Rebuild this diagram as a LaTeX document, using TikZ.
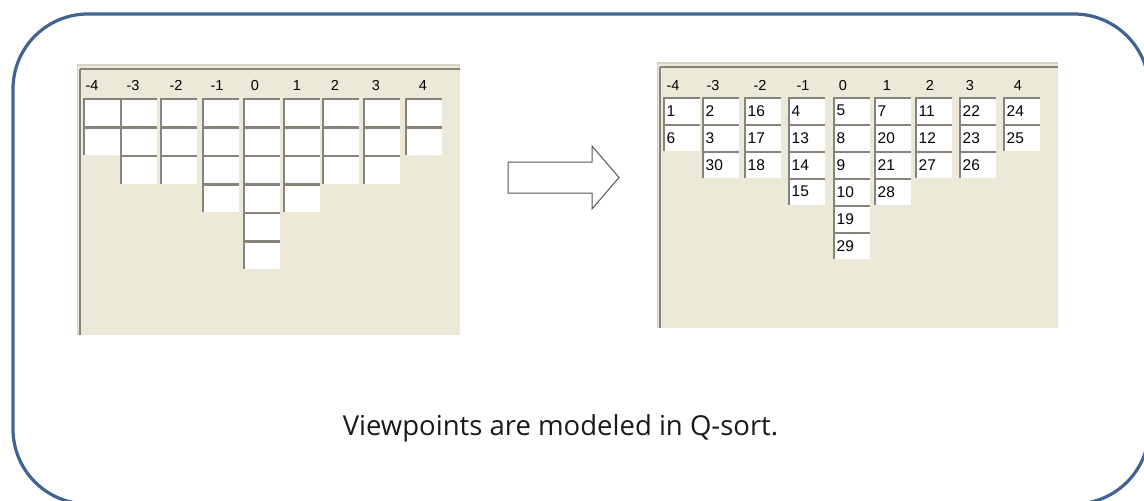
\documentclass[tikz,border=0pt]{standalone}
\usepackage{fontspec}
\setmainfont{Liberation Sans}
\newfontfamily\capfont{Open Sans}
\definecolor{panelbg}{HTML}{ECE9D8}
\definecolor{edgedark}{HTML}{85837A}
\definecolor{edgemid}{HTML}{D6D3C6}
\definecolor{frameblue}{HTML}{3F6492}
\definecolor{arrowgray}{HTML}{555555}
\begin{document}
\begin{tikzpicture}[x=1pt,y=-1pt,
  frame/.style={draw=frameblue, line width=3.2pt, rounded corners=75pt},
  panel/.style={fill=panelbg},
  colhead/.style={font=\fontsize{14.5}{16}\selectfont, text=black, inner sep=0pt, anchor=base},
  qcell/.style={rectangle, fill=white, anchor=north west, inner ysep=0pt,
    inner xsep=3.5pt, text width=30pt, align=left, minimum width=37pt,
    font=\fontsize{15.5}{16}\selectfont,
    path picture={\draw[edgedark, line width=4pt]
      (path picture bounding box.south west) --
      (path picture bounding box.north west) --
      (path picture bounding box.north east);}},
  blockarrow/.style={draw=arrowgray, line width=1pt, fill=white, line join=miter},
  caption/.style={font=\capfont\fontsize{27.5}{32}\selectfont, text=black!90}]
\useasboundingbox (0,0) rectangle (1144,501);

% outer frame, partly running past the right and bottom edges
\begin{scope}
  \clip (0,0) rectangle (1144,501);
  \draw[frame] (13,14) rectangle (1149,504);
\end{scope}

% ---- left panel: empty Q-sort grid ----
\fill[panel] (77,64) rectangle (460,335);
\draw[edgemid, line width=1.5pt] (77,65) -- (460,65);
\draw[edgemid, line width=1.5pt] (77.5,65) -- (77.5,335);
\draw[edgedark, line width=2pt] (80,68.5) -- (460,68.5);
\draw[edgedark, line width=2pt] (80,68.5) -- (80,335);
\foreach \lab/\cx/\n/\hx [count=\i] in
  {-4/83/2/92, -3/120/3/133, -2/160/3/176, -1/202/4/217, 0/243/6/255,
   1/283/4/297, 2/322/3/335, 3/363/3/376, 4/405/2/423}{
  \node[colhead] (Lh\i) at (\hx,90.5) {\lab};
  \foreach \r in {1,...,\n}{
    \node[qcell, minimum height=28.5pt] (L\i-\r) at (\cx,{98+28.5*(\r-1)}) {};
  }
}

% ---- transition arrow ----
\draw[blockarrow] (508,162) -- (592,162) -- (592,146) -- (619,177.5)
  -- (592,209) -- (592,193) -- (508,193) -- cycle;

% ---- right panel: filled Q-sort grid ----
\fill[panel] (657,62) rectangle (1058,328);
\draw[edgemid, line width=1.5pt] (657,63) -- (1058,63);
\draw[edgemid, line width=1.5pt] (657.5,63) -- (657.5,328);
\draw[edgedark, line width=2pt] (660,67) -- (1058,67);
\draw[edgedark, line width=2pt] (660,67) -- (660,328);
\foreach \lab/\cx/\hx/\nums [count=\i] in
  {-4/663/673/{1,6}, -3/702/713/{2,3,30}, -2/744/760/{16,17,18},
   -1/788/803/{4,13,14,15}, 0/833/843/{5,8,9,10,19,29},
   1/874/887/{7,20,21,28}, 2/915/930/{11,12,27}, 3/959/970/{22,23,26},
   4/1003/1018/{24,25}}{
  \node[colhead] (Rh\i) at (\hx,90.5) {\lab};
  \foreach \v [count=\r] in \nums{
    \node[qcell, minimum height=27pt] (R\i-\r) at (\cx,{97+27*(\r-1)}) {\v};
  }
}

% ---- caption ----
\node[caption] (cap) at (560.5,428) {Viewpoints are modeled in Q-sort.};
\end{tikzpicture}
\end{document}
